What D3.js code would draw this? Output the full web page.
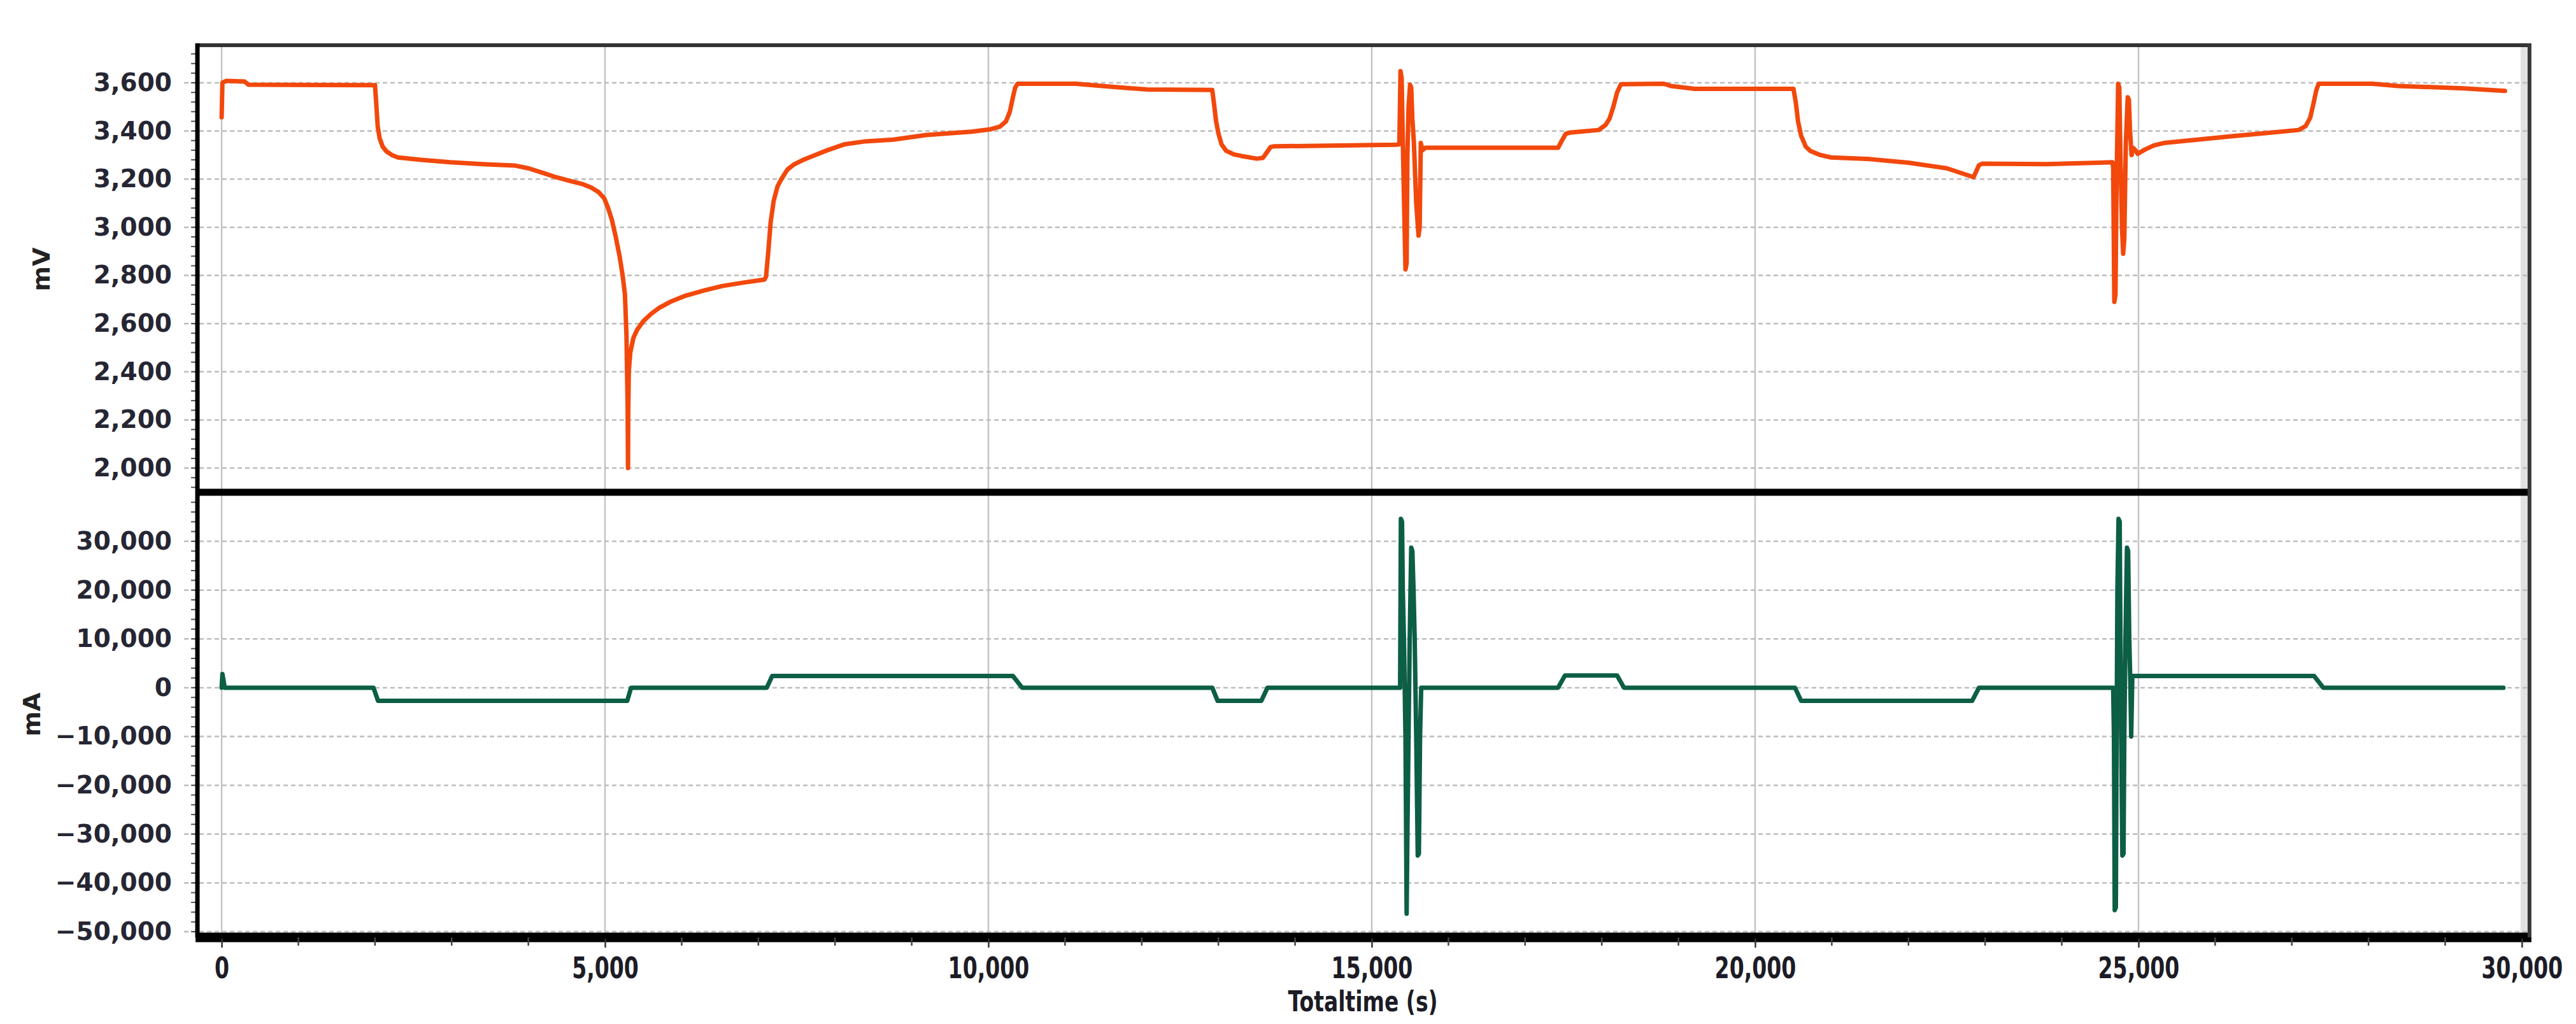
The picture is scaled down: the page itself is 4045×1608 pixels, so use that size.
<!DOCTYPE html>
<html>
<head>
<meta charset="utf-8">
<script src="https://cdn.jsdelivr.net/npm/d3@7"></script>
<style>
  body { margin: 0; background: #fff; }
  svg { display: block; }
  text { font-family: "DejaVu Sans", Verdana, sans-serif; }
</style>
</head>
<body>
<div id="chart-container"></div>
<script>
// DATA
var voltTime = [0, 10, 60, 300, 350, 2000, 2015, 2035, 2060, 2100, 2150, 2220, 2300, 2600, 2980, 3400, 3830,
  4000, 4200, 4360, 4550, 4700, 4820, 4920, 4990, 5040, 5090, 5140, 5190, 5230, 5260, 5280, 5295, 5300,
  5302, 5310, 5330, 5370, 5420, 5500, 5600, 5700, 5850, 6050, 6300, 6530, 6800, 7080,
  7100, 7130, 7160, 7200, 7250, 7300, 7380, 7470, 7600, 7710, 7900, 8130, 8400, 8760, 9190, 9780,
  10030, 10150, 10230, 10280, 10320, 10350, 10380, 11140, 11480, 12070,
  12920, 12940, 12970, 13000, 13040, 13100, 13200, 13300, 13500, 13580, 13630, 13680, 13720, 15320,
  15360, 15375, 15390, 15400, 15415, 15440, 15455, 15465, 15480, 15500, 15515, 15530, 15550, 15580, 15610, 15625, 15640, 15660, 15700,
  17430, 17480, 17530, 17600, 17960, 18050, 18100, 18150, 18200, 18250, 18810, 18900, 19210,
  20500, 20530, 20560, 20600, 20660, 20720, 20850, 20990, 21500, 22000, 22500, 22850, 22880, 22920, 22960, 23800, 24660,
  24670, 24685, 24700, 24715, 24735, 24750, 24765, 24785, 24800, 24815, 24835, 24860, 24875, 24890, 24910, 24930, 24960, 24990,
  25080, 25200, 25330, 25710, 26190, 26660, 27090, 27180, 27240, 27280, 27320, 27350, 28050, 28380, 29240, 29780];
var voltage = [3457, 3600, 3608, 3605, 3592, 3590, 3520, 3420, 3370, 3335, 3315, 3300, 3290, 3280, 3270, 3262, 3256,
  3245, 3225, 3208, 3192, 3180, 3165, 3145, 3120, 3080, 3030, 2960, 2880, 2800, 2720, 2550, 2250, 2000,
  2200, 2400, 2480, 2540, 2575, 2610, 2640, 2664, 2690, 2716, 2738, 2756, 2770, 2783,
  2795, 2900, 3020, 3110, 3170, 3200, 3240, 3262, 3282, 3296, 3320, 3345, 3357, 3364, 3383, 3397,
  3407, 3418, 3440, 3480, 3540, 3580, 3596, 3596, 3587, 3572,
  3570, 3520, 3440, 3390, 3345, 3318, 3303, 3296, 3285, 3288, 3310, 3333, 3336, 3343,
  3345, 3648, 3620, 3450, 3200, 2825, 2850, 3300, 3500, 3592, 3580, 3450, 3350, 3100, 2965, 3000, 3350, 3320, 3330,
  3330, 3360, 3388, 3394, 3404, 3425, 3450, 3499, 3560, 3594, 3596, 3587, 3575,
  3575, 3520, 3440, 3380, 3335, 3317, 3300, 3290, 3283, 3268, 3245, 3208, 3230, 3258, 3264, 3262, 3270,
  3250, 2690, 2720, 3200, 3596, 3580, 3300, 3000, 2890, 2950, 3350, 3540, 3530, 3400, 3300, 3330, 3320, 3305,
  3322, 3340, 3350, 3362, 3377, 3391, 3404, 3420, 3455, 3510, 3570, 3596, 3596, 3587, 3577, 3566];

var currTime = [0, 10, 40, 1980, 2040, 5290, 5340, 7110, 7180, 10320, 10440, 12920, 12990, 13560, 13640, 15370,
  15380, 15395, 15405, 15420, 15440, 15455, 15465, 15480, 15495, 15515, 15530, 15545, 15560, 15580, 15600, 15615, 15630, 15645,
  17430, 17520, 18200, 18290, 20520, 20600, 22830, 22920, 24670,
  24680, 24690, 24705, 24715, 24725, 24740, 24755, 24765, 24775, 24790, 24805, 24815, 24830, 24850, 24865, 24880, 24895, 24905,
  24920, 27290, 27410, 29760];
var current = [0, 2800, 0, 0, -2700, -2700, 0, 0, 2400, 2400, 0, 0, -2700, -2700, 0, 0,
  34600, 34000, 20000, 10000, -10000, -46300, -30000, -10000, 10000, 28700, 28000, 20000, 10000, -10000, -34400, -34000, -10000, 0,
  0, 2500, 2500, 0, 0, -2700, -2700, 0, 0,
  -10000, -45600, -45000, -10000, 20000, 34600, 34000, 10000, -10000, -34400, -34000, -10000, 10000, 28700, 28000, 10000, 0, -10000,
  2400, 2400, 0, 0];

var xTicks = [0, 5000, 10000, 15000, 20000, 25000, 30000];
var voltTicks = [2000, 2200, 2400, 2600, 2800, 3000, 3200, 3400, 3600];
var currTicks = [-50000, -40000, -30000, -20000, -10000, 0, 10000, 20000, 30000];

var width = 4045,
    height = 1608;

var plotLeft = 310,
    plotRight = 3972,
    topY = 71,
    midY = 773,
    bottomY = 1472;

var fmt = d3.format(",");

var svg = d3.select("#chart-container").append("svg")
  .attr("width", width)
  .attr("height", height)
  .style("background-color", "#fff");

var x = d3.scaleLinear().domain([-316, 30100]).range([plotLeft, plotRight]);
var yV = d3.scaleLinear().domain([2000, 3600]).range([735, 130]);
var yI = d3.scaleLinear().domain([-50000, 30000]).range([1463, 850]);

// clip areas for the two panels
var defs = svg.append("defs");
defs.append("clipPath").attr("id", "clipTop").append("rect")
  .attr("x", plotLeft).attr("y", topY).attr("width", plotRight - plotLeft).attr("height", midY - topY);
defs.append("clipPath").attr("id", "clipBottom").append("rect")
  .attr("x", plotLeft).attr("y", midY).attr("width", plotRight - plotLeft).attr("height", bottomY - midY);

// VERTICAL GRID
svg.append("g").selectAll("line")
  .data(xTicks)
  .enter().append("line")
    .attr("x1", function(d){ return x(d); })
    .attr("x2", function(d){ return x(d); })
    .attr("y1", topY)
    .attr("y2", bottomY)
    .style("stroke", "#c4c4c4")
    .style("stroke-width", 2.5);

// light band next to the right border
svg.append("rect")
  .attr("x", plotRight - 14).attr("y", topY).attr("width", 11).attr("height", bottomY - topY)
  .style("fill", "#e2e2e2");

// HORIZONTAL GRID (dashed), starting a bit left of the frame like the original
function hGrid(scale, ticks){
  svg.append("g").selectAll("line")
    .data(ticks)
    .enter().append("line")
      .attr("x1", plotLeft - 21)
      .attr("x2", plotRight)
      .attr("y1", function(d){ return scale(d); })
      .attr("y2", function(d){ return scale(d); })
      .style("stroke", "#bcbcbc")
      .style("stroke-width", 2.5)
      .style("stroke-dasharray", "7,5");
}
hGrid(yV, voltTicks);
hGrid(yI, currTicks);

// minor ticks on the left side
function minorTicks(scale, step, y0, y1){
  var d = scale.domain();
  var vals = d3.range(d[0] - step * 4, d[1] + step * 8, step).filter(function(v){
    var p = scale(v);
    return p > y0 + 6 && p < y1 - 6;
  });
  svg.append("g").selectAll("line")
    .data(vals)
    .enter().append("line")
      .attr("x1", plotLeft - 10)
      .attr("x2", plotLeft)
      .attr("y1", function(v){ return scale(v); })
      .attr("y2", function(v){ return scale(v); })
      .style("stroke", "#555")
      .style("stroke-width", 2);
}
minorTicks(yV, 40, topY, midY);
minorTicks(yI, 2000, midY, bottomY);

// LINES
var voltData = voltTime.map(function(t, i){ return [t, voltage[i]]; });
var currData = currTime.map(function(t, i){ return [t, current[i]]; });

var voltLine = d3.line()
  .x(function(d){ return x(d[0]); })
  .y(function(d){ return yV(d[1]); });

var currLine = d3.line()
  .x(function(d){ return x(d[0]); })
  .y(function(d){ return yI(d[1]); });

svg.append("path")
  .datum(voltData)
  .attr("clip-path", "url(#clipTop)")
  .attr("d", voltLine)
  .style("fill", "none")
  .style("stroke", "#f2480c")
  .style("stroke-width", 7)
  .style("stroke-linejoin", "round")
  .style("stroke-linecap", "round");

svg.append("path")
  .datum(currData)
  .attr("clip-path", "url(#clipBottom)")
  .attr("d", currLine)
  .style("fill", "none")
  .style("stroke", "#0c5e45")
  .style("stroke-width", 7)
  .style("stroke-linejoin", "round")
  .style("stroke-linecap", "round");

// FRAME
svg.append("line").attr("x1", plotLeft).attr("x2", plotRight).attr("y1", topY).attr("y2", topY)
  .style("stroke", "#333").style("stroke-width", 6);
svg.append("line").attr("x1", plotLeft).attr("x2", plotRight + 3).attr("y1", midY).attr("y2", midY)
  .style("stroke", "#000").style("stroke-width", 11);
svg.append("line").attr("x1", plotLeft - 3).attr("x2", plotRight + 3).attr("y1", bottomY).attr("y2", bottomY)
  .style("stroke", "#000").style("stroke-width", 15);
svg.append("line").attr("x1", plotLeft).attr("x2", plotLeft).attr("y1", topY - 3).attr("y2", bottomY)
  .style("stroke", "#000").style("stroke-width", 7);
svg.append("line").attr("x1", plotRight).attr("x2", plotRight).attr("y1", topY - 3).attr("y2", bottomY)
  .style("stroke", "#3a3a3a").style("stroke-width", 6);

// Y AXIS LABELS
var vAxis = d3.axisLeft(yV).tickValues(voltTicks).tickFormat(fmt).tickSize(0).tickPadding(0);
var vGuide = svg.append("g").attr("transform", "translate(270,0)");
vAxis(vGuide);
vGuide.select(".domain").remove();

var iAxis = d3.axisLeft(yI).tickValues(currTicks).tickFormat(fmt).tickSize(0).tickPadding(0);
var iGuide = svg.append("g").attr("transform", "translate(270,0)");
iAxis(iGuide);
iGuide.select(".domain").remove();

svg.selectAll(".tick text")
  .style("font-family", "'DejaVu Sans', Verdana, sans-serif")
  .style("font-size", "39px")
  .style("font-weight", "bold")
  .style("fill", "#262633");

// X AXIS
var hAxis = d3.axisBottom(x).tickValues(xTicks).tickFormat(fmt).tickSize(14).tickPadding(0);
var hGuide = svg.append("g").attr("transform", "translate(0," + (bottomY + 2) + ")");
hAxis(hGuide);
hGuide.select(".domain").remove();
hGuide.selectAll(".tick line").style("stroke", "#333").style("stroke-width", 2.5);
hGuide.selectAll(".tick text")
  .attr("y", 0)
  .attr("dy", 0)
  .attr("transform", "translate(0,62) scale(0.72,1)")
  .style("font-family", "'DejaVu Sans', Verdana, sans-serif")
  .style("font-size", "46px")
  .style("font-weight", "bold")
  .style("fill", "#1c1c26");

// minor x ticks every 1000 s
svg.append("g").selectAll("line")
  .data(d3.range(1000, 30000, 1000).filter(function(d){ return d % 5000 !== 0; }))
  .enter().append("line")
    .attr("x1", function(d){ return x(d); })
    .attr("x2", function(d){ return x(d); })
    .attr("y1", bottomY)
    .attr("y2", bottomY + 13)
    .style("stroke", "#444")
    .style("stroke-width", 2.5);

// AXIS TITLES
svg.append("text")
  .attr("transform", "translate(2140,1588) scale(0.75,1)")
  .attr("text-anchor", "middle")
  .style("font-size", "44px")
  .style("font-weight", "bold")
  .style("fill", "#1c1c26")
  .text("Totaltime (s)");

svg.append("text")
  .attr("transform", "translate(78,423) rotate(-90)")
  .attr("text-anchor", "middle")
  .style("font-size", "38px")
  .style("font-weight", "bold")
  .style("fill", "#222")
  .text("mV");

svg.append("text")
  .attr("transform", "translate(63,1122) rotate(-90)")
  .attr("text-anchor", "middle")
  .style("font-size", "38px")
  .style("font-weight", "bold")
  .style("fill", "#222")
  .text("mA");
</script>
</body>
</html>
